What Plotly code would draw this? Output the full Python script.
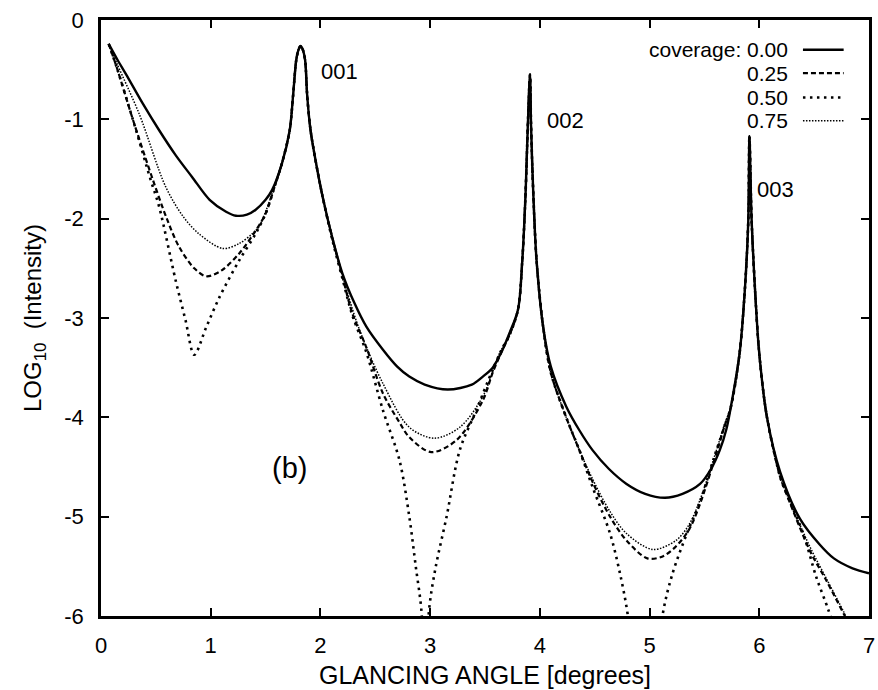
import plotly.graph_objects as go

# ---- data ----
x_cov000 = [0.07, 0.15, 0.23, 0.38, 0.53, 0.68, 0.83, 0.99, 1.14, 1.23, 1.33, 1.41, 1.50, 1.56, 1.65, 1.72, 1.75, 1.78,
            1.80, 1.82, 1.84, 1.86, 1.88, 1.91, 1.96, 2.02, 2.11, 2.20, 2.31, 2.42, 2.57, 2.70, 2.81, 2.95, 3.16, 3.38,
            3.48, 3.57, 3.66, 3.72, 3.80, 3.84, 3.87, 3.89, 3.91, 3.92, 3.94, 3.97, 4.03, 4.10, 4.24, 4.36, 4.48, 4.63,
            4.79, 4.96, 5.14, 5.30, 5.46, 5.56, 5.64, 5.70, 5.74, 5.82, 5.87, 5.90, 5.91, 5.93, 5.96, 6.00, 6.07, 6.19,
            6.37, 6.55, 6.68, 6.85, 7.00]
y_cov000 = [-0.24, -0.40, -0.55, -0.84, -1.11, -1.36, -1.58, -1.81, -1.93, -1.97, -1.96, -1.91, -1.81, -1.71, -1.44, -1.11, -0.77, -0.40,
            -0.30, -0.26, -0.30, -0.40, -0.77, -1.11, -1.44, -1.78, -2.20, -2.55, -2.85, -3.09, -3.32, -3.49, -3.59, -3.67, -3.72, -3.67,
            -3.59, -3.50, -3.32, -3.16, -2.92, -2.42, -1.74, -1.07, -0.55, -1.07, -1.74, -2.42, -3.09, -3.49, -3.89, -4.13, -4.33, -4.52,
            -4.67, -4.77, -4.81, -4.77, -4.67, -4.52, -4.33, -4.12, -3.90, -3.36, -2.69, -2.01, -1.17, -2.01, -2.69, -3.36, -4.00, -4.55,
            -5.02, -5.28, -5.42, -5.52, -5.57]

x_cov025 = [0.07, 0.15, 0.29, 0.47, 0.60, 0.71, 0.85, 0.96, 1.10, 1.26, 1.41, 1.50, 1.59, 1.65, 1.72, 1.75, 1.78, 1.80,
            1.82, 1.84, 1.86, 1.88, 1.91, 1.96, 2.02, 2.11, 2.20, 2.29, 2.42, 2.57, 2.72, 2.81, 3.01, 3.24, 3.48, 3.57,
            3.66, 3.72, 3.80, 3.84, 3.87, 3.89, 3.91, 3.92, 3.94, 3.97, 4.03, 4.10, 4.24, 4.36, 4.48, 4.64, 4.79, 4.98,
            5.12, 5.24, 5.36, 5.46, 5.61, 5.68, 5.74, 5.82, 5.87, 5.90, 5.91, 5.93, 5.96, 6.00, 6.07, 6.19, 6.23, 6.46,
            6.61, 6.78, 6.85]
y_cov025 = [-0.24, -0.50, -1.00, -1.60, -2.00, -2.28, -2.50, -2.58, -2.52, -2.35, -2.12, -1.95, -1.65, -1.44, -1.11, -0.77, -0.40, -0.30,
            -0.26, -0.30, -0.40, -0.77, -1.11, -1.44, -1.78, -2.20, -2.58, -2.95, -3.30, -3.76, -4.05, -4.20, -4.35, -4.23, -3.83, -3.55,
            -3.32, -3.18, -2.92, -2.42, -1.74, -1.07, -0.55, -1.07, -1.74, -2.42, -3.09, -3.55, -4.00, -4.33, -4.65, -5.00, -5.24, -5.42,
            -5.40, -5.30, -5.13, -4.87, -4.36, -4.10, -3.90, -3.36, -2.69, -2.01, -1.17, -2.01, -2.69, -3.36, -4.00, -4.60, -4.72, -5.34,
            -5.64, -6.00, -6.15]

x_cov050 = [0.07, 0.15, 0.29, 0.45, 0.53, 0.68, 0.77, 0.85, 0.96, 1.08, 1.26, 1.41, 1.50, 1.59, 1.65, 1.72, 1.75, 1.78,
            1.80, 1.82, 1.84, 1.86, 1.88, 1.91, 1.96, 2.02, 2.11, 2.20, 2.29, 2.42, 2.57, 2.72, 2.81, 2.87, 2.92, 2.955,
            2.99, 3.05, 3.15, 3.27, 3.42, 3.57, 3.66, 3.72, 3.80, 3.84, 3.87, 3.89, 3.91, 3.92, 3.94, 3.97, 4.03, 4.10,
            4.24, 4.36, 4.48, 4.64, 4.73, 4.80, 4.96, 5.12, 5.21, 5.34, 5.46, 5.58, 5.68, 5.74, 5.82, 5.87, 5.90, 5.91,
            5.93, 5.96, 6.00, 6.07, 6.19, 6.23, 6.40, 6.52, 6.63, 6.70]
y_cov050 = [-0.24, -0.50, -1.00, -1.60, -1.88, -2.62, -3.02, -3.37, -3.09, -2.79, -2.42, -2.15, -1.95, -1.65, -1.44, -1.11, -0.77, -0.40,
            -0.30, -0.26, -0.30, -0.40, -0.77, -1.11, -1.44, -1.78, -2.22, -2.60, -2.97, -3.35, -3.93, -4.43, -5.00, -5.51, -5.94, -6.80,
            -5.94, -5.51, -5.00, -4.33, -3.93, -3.52, -3.30, -3.18, -2.92, -2.42, -1.74, -1.07, -0.55, -1.07, -1.74, -2.42, -3.09, -3.55,
            -4.00, -4.33, -4.70, -5.17, -5.57, -5.98, -7.50, -5.98, -5.57, -5.17, -4.85, -4.43, -4.10, -3.90, -3.36, -2.69, -2.01, -1.17,
            -2.01, -2.69, -3.36, -4.00, -4.60, -4.72, -5.17, -5.61, -5.94, -6.20]

x_cov075 = [0.07, 0.15, 0.35, 0.59, 0.75, 0.89, 1.11, 1.26, 1.38, 1.44, 1.50, 1.59, 1.65, 1.72, 1.75, 1.78, 1.80, 1.82,
            1.84, 1.86, 1.88, 1.91, 1.96, 2.02, 2.11, 2.20, 2.35, 2.57, 2.81, 3.04, 3.27, 3.48, 3.63, 3.72, 3.80, 3.84,
            3.87, 3.89, 3.91, 3.92, 3.94, 3.97, 4.03, 4.10, 4.24, 4.36, 4.48, 4.64, 4.79, 5.03, 5.24, 5.36, 5.46, 5.61,
            5.68, 5.74, 5.82, 5.87, 5.90, 5.91, 5.93, 5.96, 6.00, 6.07, 6.19, 6.23, 6.46, 6.61, 6.77, 6.85]
y_cov075 = [-0.24, -0.45, -0.95, -1.68, -1.98, -2.15, -2.30, -2.25, -2.15, -2.08, -1.93, -1.65, -1.44, -1.11, -0.77, -0.40, -0.30, -0.26,
            -0.30, -0.40, -0.77, -1.11, -1.44, -1.78, -2.20, -2.57, -3.10, -3.66, -4.10, -4.21, -4.10, -3.79, -3.36, -3.18, -2.92, -2.42,
            -1.74, -1.07, -0.55, -1.07, -1.74, -2.42, -3.09, -3.55, -4.00, -4.33, -4.62, -4.95, -5.17, -5.33, -5.24, -5.08, -4.83, -4.33,
            -4.08, -3.90, -3.36, -2.69, -2.01, -1.17, -2.01, -2.69, -3.36, -4.00, -4.60, -4.72, -5.30, -5.62, -5.96, -6.15]

coverages = ["0.00", "0.25", "0.50", "0.75"]
x_ticks = [0, 1, 2, 3, 4, 5, 6, 7]
x_ticktext = ["0", "1", "2", "3", "4", "5", "6", "7"]
y_ticks = [0, -1, -2, -3, -4, -5, -6]
y_ticktext = ["0", "-1", "-2", "-3", "-4", "-5", "-6"]
peak_labels = ["001", "002", "003"]
peak_label_x = [2.17, 4.23, 6.15]
peak_label_y = [-0.52, -1.01, -1.71]

FONT = "Liberation Sans, Arial, sans-serif"
styles = [
    dict(color="black", width=2.4, dash="solid"),
    dict(color="black", width=2.2, dash="5px,3px"),
    dict(color="black", width=2.6, dash="2.5px,4.5px"),
    dict(color="black", width=1.5, dash="1.5px,1.5px"),
]
series = [(x_cov000, y_cov000), (x_cov025, y_cov025), (x_cov050, y_cov050), (x_cov075, y_cov075)]

fig = go.Figure()
for (xs, ys), st, cov in zip(series, styles, coverages):
    fig.add_trace(go.Scatter(x=xs, y=ys, mode="lines", name=cov,
                             line=dict(shape="spline", smoothing=0.9, **st), showlegend=False))

fig.update_xaxes(range=[0, 7], tickvals=x_ticks, ticktext=x_ticktext, showline=True, linecolor="black", linewidth=2.5,
                 mirror="ticks", ticks="inside", ticklen=8, tickwidth=2, tickcolor="black", showgrid=False, zeroline=False,
                 automargin=False,
                 tickfont=dict(family=FONT, size=22, color="black"), ticklabelstandoff=8,
                 title=dict(text="GLANCING ANGLE [degrees]", font=dict(family=FONT, size=25, color="black"), standoff=10))
fig.update_yaxes(range=[-6, 0], tickvals=y_ticks, ticktext=y_ticktext, showline=True, linecolor="black", linewidth=2.5,
                 mirror="ticks", ticks="inside", ticklen=8, tickwidth=2, tickcolor="black", showgrid=False, zeroline=False,
                 automargin=False,
                 tickfont=dict(family=FONT, size=22, color="black"), ticklabelstandoff=10,
                 title=dict(text="LOG<sub>10</sub>\u00a0\u00a0(Intensity)", font=dict(family=FONT, size=24, color="black"),
                            standoff=16))

annotations = []
for t, ax, ay in zip(peak_labels, peak_label_x, peak_label_y):
    annotations.append(dict(x=ax, y=ay, xref="x", yref="y", text=t, showarrow=False,
                            font=dict(family=FONT, size=22, color="black")))
annotations.append(dict(x=1.72, y=-4.51, xref="x", yref="y", text="(b)", showarrow=False,
                        font=dict(family=FONT, size=29, color="black")))

# legend (text right-aligned, sample to its right)
leg_text = ["coverage: " + coverages[0], coverages[1], coverages[2], coverages[3]]
leg_y = [0.950, 0.911, 0.870, 0.831]
shapes = []
for txt, ly, st in zip(leg_text, leg_y, styles):
    annotations.append(dict(x=0.896, y=ly, xref="paper", yref="paper", text=txt, showarrow=False,
                            xanchor="right", yanchor="middle", borderpad=0,
                            font=dict(family=FONT, size=21, color="black")))
    shapes.append(dict(type="line", xref="paper", yref="paper", x0=0.914, x1=0.967, y0=ly, y1=ly,
                       line=dict(color=st["color"], width=st["width"], dash=st["dash"])))

fig.update_layout(width=878, height=690, margin=dict(l=101, r=9, t=20, b=74, autoexpand=False),
                  paper_bgcolor="white", plot_bgcolor="white",
                  annotations=annotations, shapes=shapes,
                  font=dict(family=FONT, size=22, color="black"))

fig.write_html("out.html", config={"displayModeBar": False},
               post_script="document.body.style.margin='0px';document.body.style.overflow='hidden';")
